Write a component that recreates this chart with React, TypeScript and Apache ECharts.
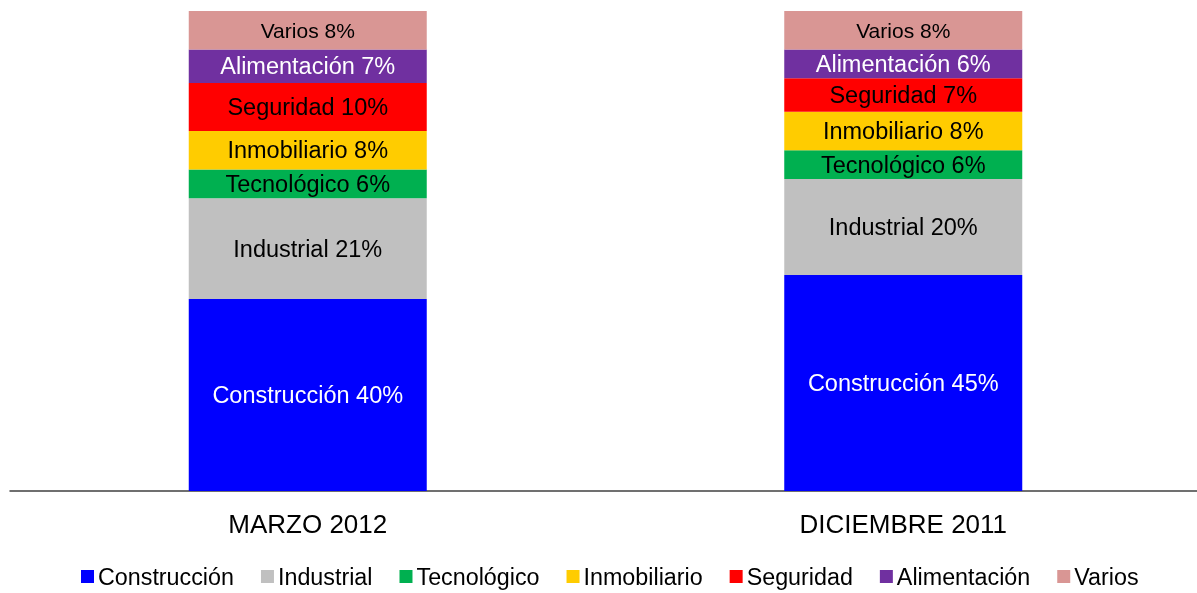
import React, { useEffect, useRef } from "react";
import * as echarts from "echarts";

const categories = ["MARZO 2012", "DICIEMBRE 2011"];
const seriesNames = ["Construcción", "Industrial", "Tecnológico", "Inmobiliario", "Seguridad", "Alimentación", "Varios"];
const construccion = [40, 45];
const industrial = [21, 20];
const tecnologico = [6, 6];
const inmobiliario = [8, 8];
const seguridad = [10, 7];
const alimentacion = [7, 6];
const varios = [8, 8];
const seriesValues = [construccion, industrial, tecnologico, inmobiliario, seguridad, alimentacion, varios];
const colors = ["#0000FF", "#C0C0C0", "#00B050", "#FFCC00", "#FF0000", "#7030A0", "#D99694"];
const labelColors = ["#FFFFFF", "#000000", "#000000", "#000000", "#000000", "#FFFFFF", "#000000"];
const labelSizes = [23.5, 23.5, 23.5, 23.5, 23.5, 23.5, 21];

const FONT = "'Liberation Sans', Arial, sans-serif";

export default function App() {
  const ref = useRef<HTMLDivElement>(null);
  useEffect(() => {
    if (!ref.current) return;
    const chart = echarts.init(ref.current, null, { renderer: "svg" });
    chart.setOption({
      animation: false,
      textStyle: { fontFamily: FONT },
      grid: { left: 10, right: 0, top: 11, bottom: 102, containLabel: false },
      legend: {
        top: 565,
        left: 81,
        padding: 0,
        icon: "rect",
        itemWidth: 13,
        itemHeight: 13,
        itemGap: 27,
        textStyle: { fontSize: 23.3, color: "#000", fontFamily: FONT, padding: [0, 0, 0, -1] },
        data: seriesNames,
      },
      xAxis: {
        type: "category",
        data: categories,
        axisTick: { show: false },
        axisLine: { lineStyle: { color: "#404040", width: 1.5 } },
        axisLabel: { fontSize: 26, color: "#000", margin: 20, fontFamily: FONT },
      },
      yAxis: { type: "value", min: 0, max: 100, show: false, splitLine: { show: false } },
      series: seriesNames.map((name, i) => ({
        name,
        type: "bar",
        stack: "total",
        barWidth: 238,
        data: seriesValues[i],
        itemStyle: { color: colors[i] },
        label: {
          show: true,
          position: "inside",
          formatter: (p: any) => `${p.seriesName} ${p.value}%`,
          color: labelColors[i],
          fontSize: labelSizes[i],
          fontFamily: FONT,
          textBorderWidth: 0,
        },
      })),
    });
    return () => chart.dispose();
  }, []);
  return <div ref={ref} style={{ position: "fixed", left: 0, top: 0, width: 1201, height: 593 }} />;
}
